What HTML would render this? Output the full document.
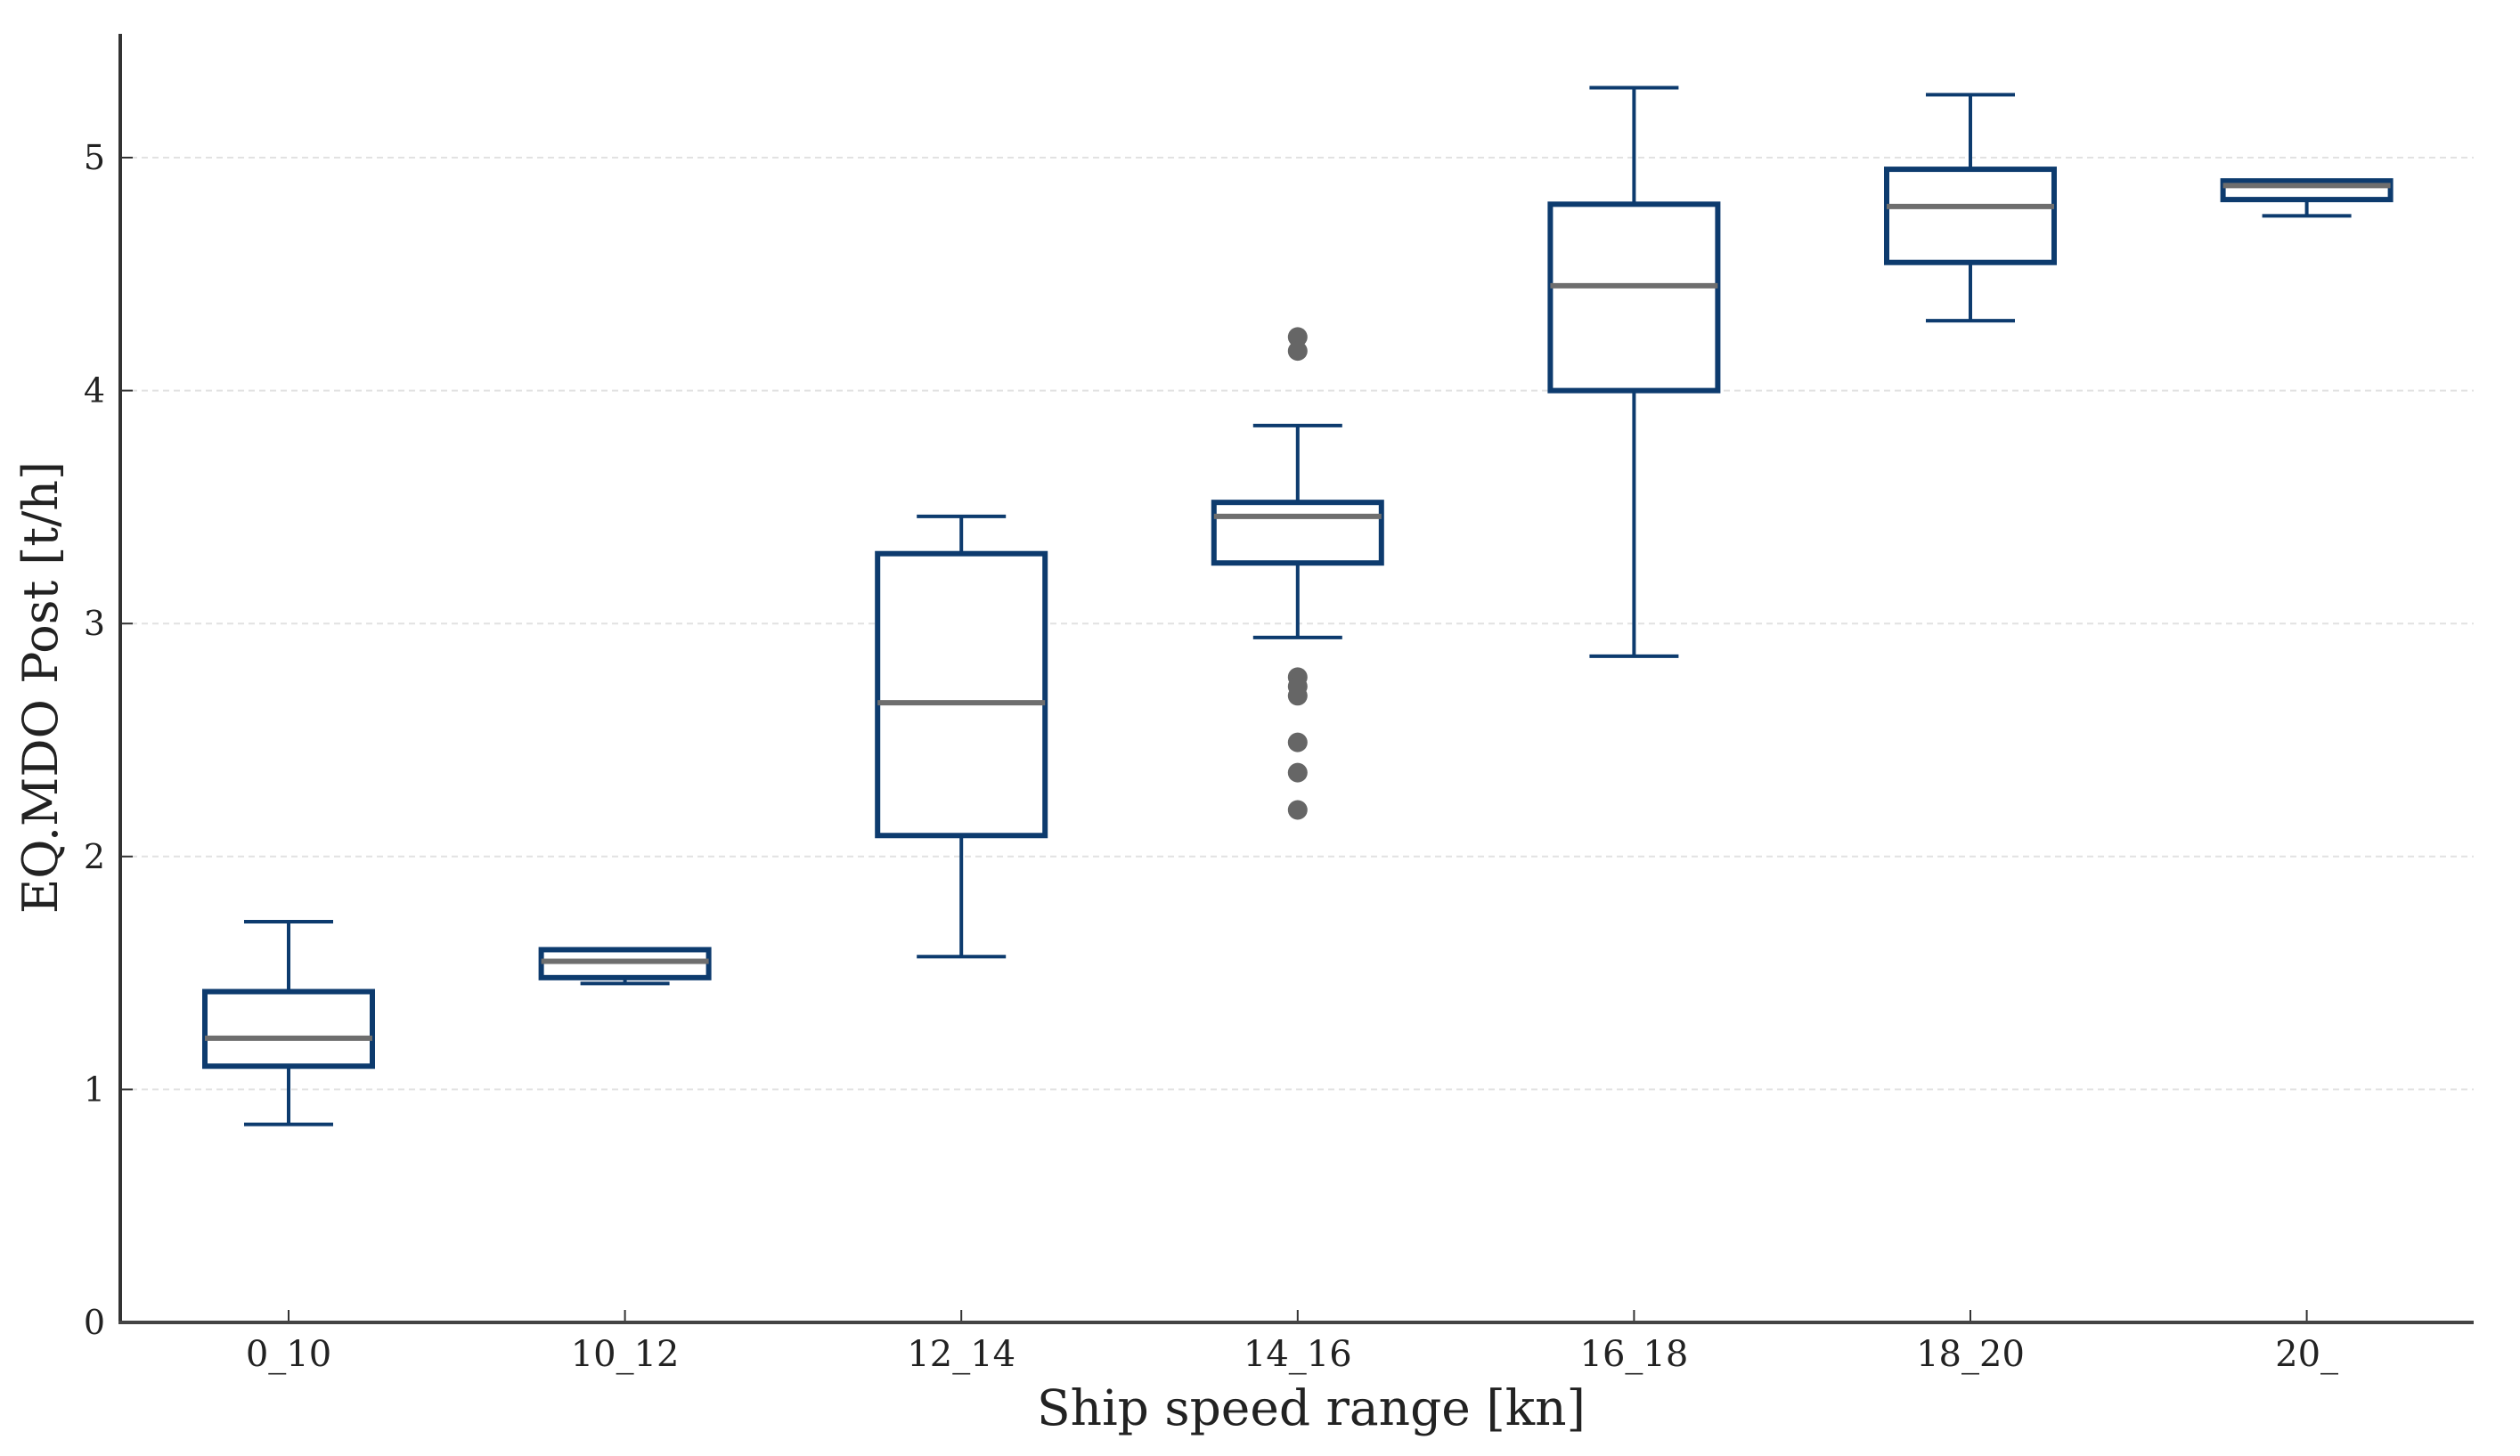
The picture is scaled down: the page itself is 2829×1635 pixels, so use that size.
<!DOCTYPE html>
<html><head><meta charset="utf-8"><style>
html,body{margin:0;padding:0;background:#fff;}
svg{display:block;}
text{font-family:"DejaVu Serif","Liberation Serif",serif;fill:#222;}
</style></head><body>
<svg id="chart" width="2829" height="1635" viewBox="0 0 2829 1635" xmlns="http://www.w3.org/2000/svg"></svg>
<script>
const categories = ["0_10","10_12","12_14","14_16","16_18","18_20","20_"];
const whiskerLow = [0.85,1.455,1.57,2.94,2.86,4.30,4.75];
const q1 = [1.10,1.48,2.09,3.26,4.00,4.55,4.82];
const medians = [1.22,1.55,2.66,3.46,4.45,4.79,4.88];
const q3 = [1.42,1.60,3.30,3.52,4.80,4.95,4.90];
const whiskerHigh = [1.72,1.60,3.46,3.85,5.30,5.27,4.90];
const outlierCat = [3,3,3,3,3,3,3,3];
const outlierVal = [4.23,4.17,2.77,2.73,2.69,2.49,2.36,2.20];
const yTicks = [0,1,2,3,4,5];

const NS="http://www.w3.org/2000/svg";
const svg=document.getElementById('chart');
const X0=135, X1=2777, Y0=1485, Ytop=38;
const yScale=v=>Y0-(v/5)*(Y0-177);
const xScale=i=>324+i*377.6;
function mk(tag,attrs,parent){const e=document.createElementNS(NS,tag);for(const k in attrs)e.setAttribute(k,attrs[k]);(parent||svg).appendChild(e);return e;}

yTicks.forEach(t=>{
  const y=yScale(t);
  if(t>0){const g=mk('line',{x1:X0,x2:X1,y1:y,y2:y,stroke:'#e2e2e2','stroke-width':2,'stroke-dasharray':'7,5'});
  
  }
  const tk=mk('line',{x1:X0,x2:X0+14,y1:y,y2:y,stroke:'#333','stroke-width':2});
  
  
  const tl=mk('text',{x:118,y:y+13,'text-anchor':'end','font-size':38});
  tl.textContent=t;
  
  
});

categories.forEach((c,i)=>{
  const x=xScale(i), hw=94, cw=50;
  const g=mk('g',{});
  
  
  mk('line',{x1:x,x2:x,y1:yScale(q3[i]),y2:yScale(whiskerHigh[i]),stroke:'#0d3b6e','stroke-width':4},g);
  mk('line',{x1:x,x2:x,y1:yScale(q1[i]),y2:yScale(whiskerLow[i]),stroke:'#0d3b6e','stroke-width':4},g);
  mk('line',{x1:x-cw,x2:x+cw,y1:yScale(whiskerHigh[i]),y2:yScale(whiskerHigh[i]),stroke:'#0d3b6e','stroke-width':4},g);
  mk('line',{x1:x-cw,x2:x+cw,y1:yScale(whiskerLow[i]),y2:yScale(whiskerLow[i]),stroke:'#0d3b6e','stroke-width':4},g);
  mk('rect',{x:x-hw,y:yScale(q3[i]),width:2*hw,height:yScale(q1[i])-yScale(q3[i]),fill:'#fff',stroke:'#0d3b6e','stroke-width':6},g);
  mk('line',{x1:x-hw,x2:x+hw,y1:yScale(medians[i]),y2:yScale(medians[i]),stroke:'#6e6e6e','stroke-width':6},g);
  const tk=mk('line',{x1:x,x2:x,y1:Y0,y2:Y0-14,stroke:'#333','stroke-width':2});
  
  
  const tl=mk('text',{x:x,y:1534,'text-anchor':'middle','font-size':40});
  tl.textContent=c;
  
  
});

outlierVal.forEach((v,k)=>{
  const d=mk('circle',{cx:xScale(outlierCat[k]),cy:yScale(v),r:11,fill:'#666'});
  
  
});

const ax=mk('line',{x1:X0,x2:X0,y1:Ytop,y2:Y0+2,stroke:'#333','stroke-width':4});


const bx=mk('line',{x1:X0-2,x2:X1,y1:Y0,y2:Y0,stroke:'#444','stroke-width':4});



const xt=mk('text',{x:1472,y:1600,'text-anchor':'middle','font-size':55});
xt.textContent='Ship speed range [kn]';


const yt=mk('text',{x:0,y:0,'text-anchor':'middle','font-size':54,transform:'translate(64,772) rotate(-90)'});
yt.textContent='EQ.MDO Post [t/h]';


</script>
</body></html>
